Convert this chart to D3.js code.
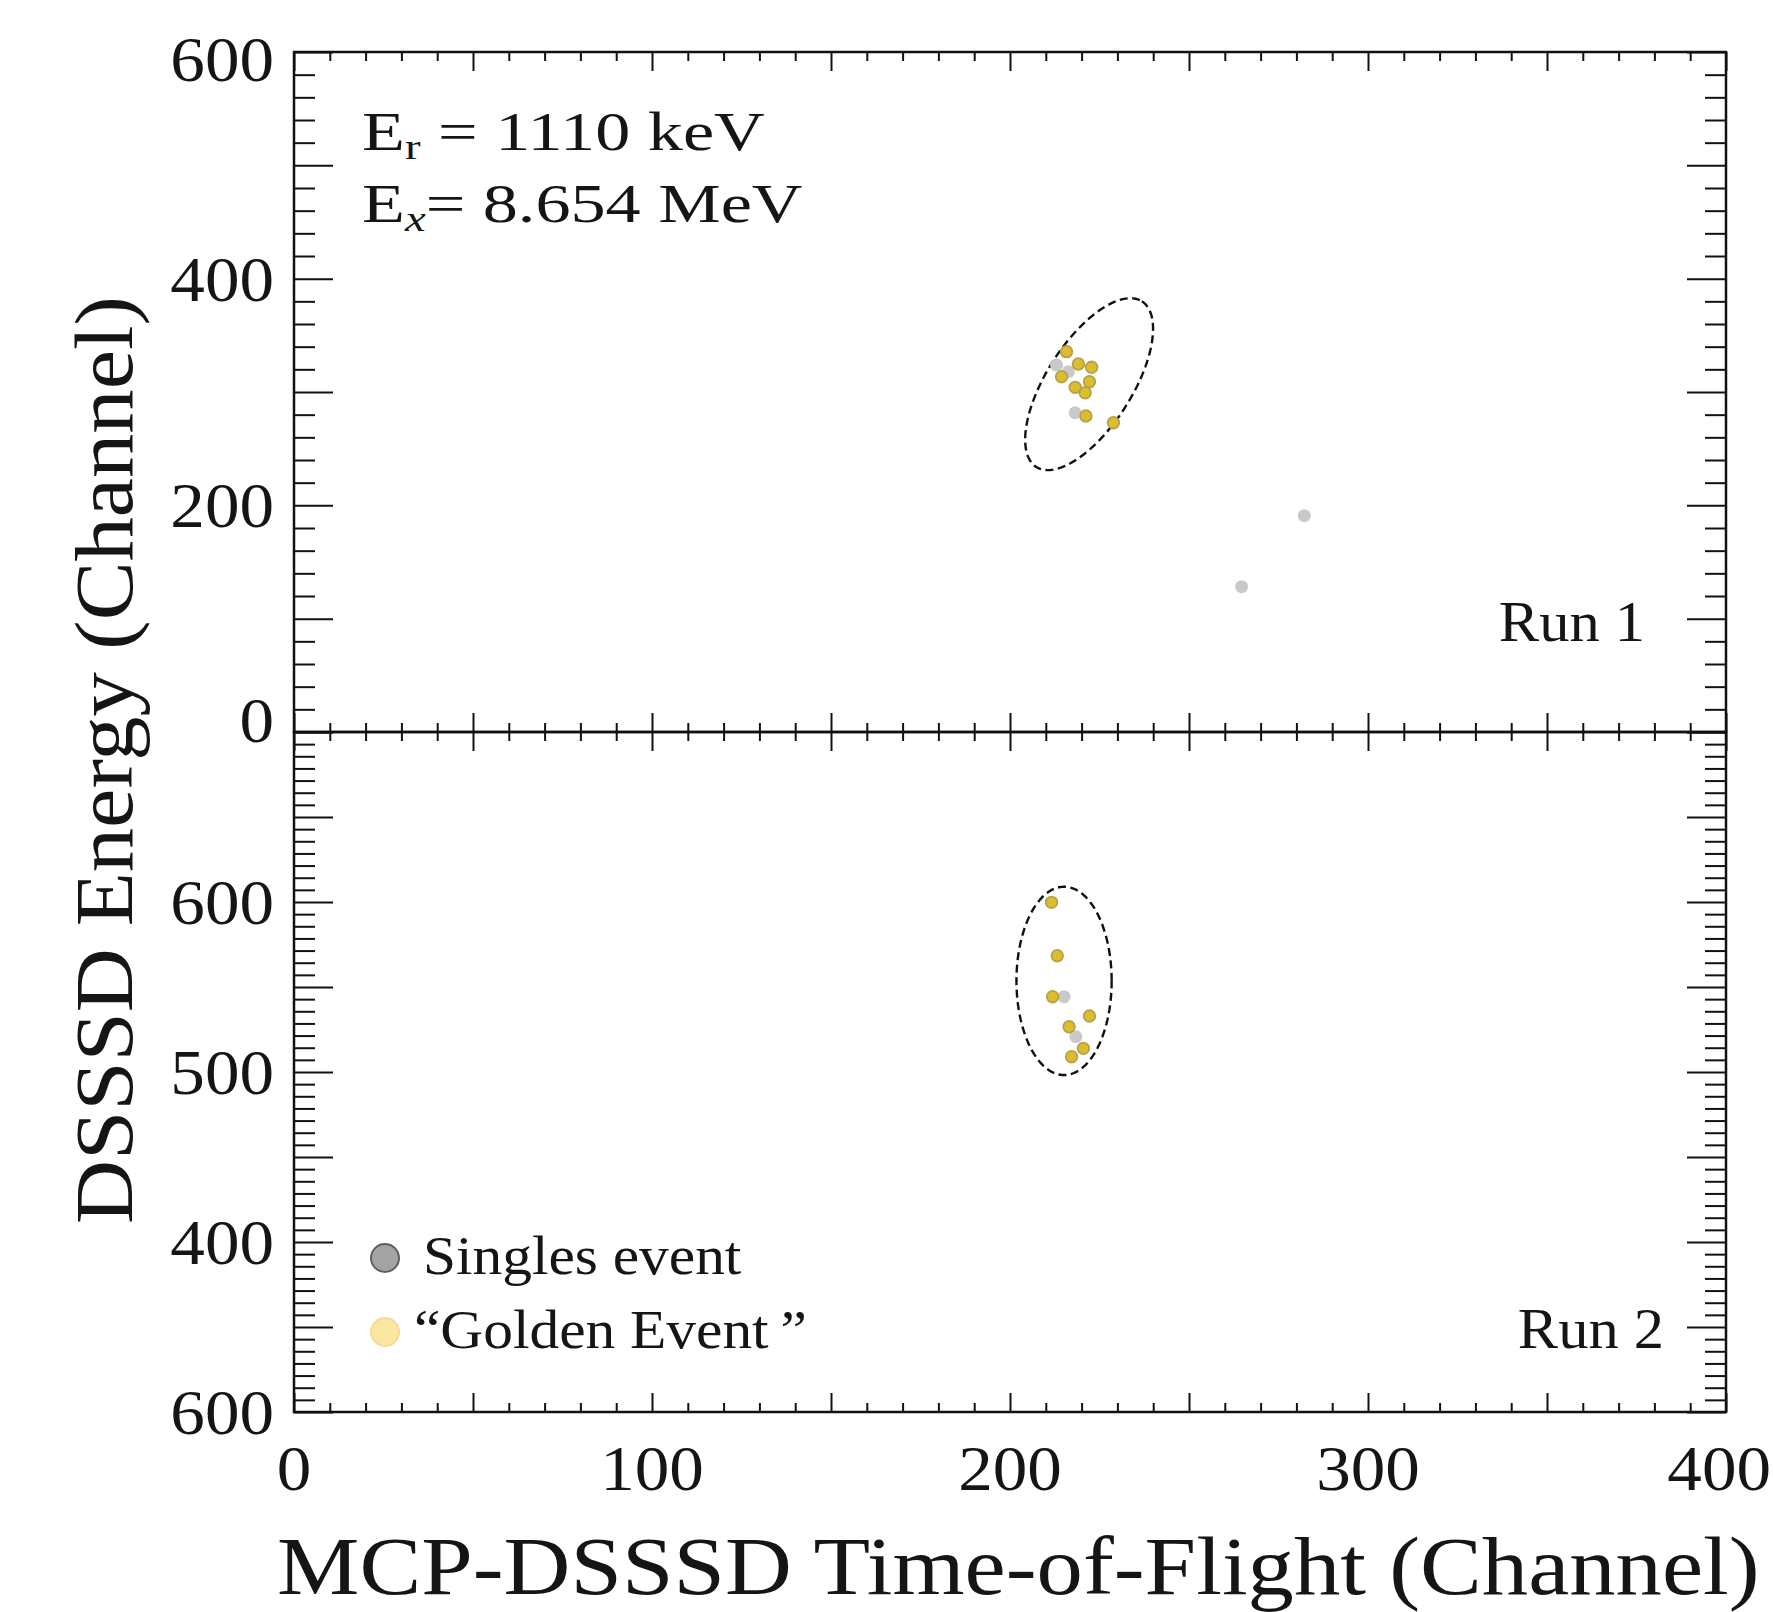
<!DOCTYPE html>
<html>
<head>
<meta charset="utf-8">
<script src="https://cdn.jsdelivr.net/npm/d3@7"></script>
<style>
  body { margin: 0; background: #fff; }
  text { font-family: "Liberation Serif", serif; fill: #151515; }
</style>
</head>
<body>
<div id="chart"></div>
<script>
// Two stacked panels sharing the ToF axis (Run 1 on top, Run 2 below)

const width = 1773;
const height = 1612;
const margin = {left: 294, right: 47, top: 52};
const panelH = 680;
const sx = 1.08; // text is a bit wider than Liberation Serif

// x axis
const xDomain = [0, 400];
const xTickVals = [0, 100, 200, 300, 400];

// Run 1 (top panel)
const run1Domain = [0, 600];
const run1TickVals = [0, 200, 400, 600];
const run1TickLabels = ["0", "200", "400", "600"];
const run1Singles = [[213.0, 323.8], [216.3, 317.9], [218.2, 281.7], [282.2, 190.9], [264.7, 128.2]];
const run1Golden = [[215.8, 335.6], [219.1, 324.7], [222.8, 321.8], [214.4, 313.5], [222.2, 309.1],
                    [218.2, 304.1], [221.0, 299.4], [221.2, 278.8], [228.9, 272.9]];
// gate: centre + two conjugate half-axes, all in data units
const run1Gate = {cx: 222.1, cy: 306.9, ux: 14.75, uy: 73.1, vx: 10.08, vy: -20.3};

// Run 2 (bottom panel) - tick labels as printed on the original
const run2Domain = [300, 700];
const run2TickVals = [300, 400, 500, 600];
const run2TickLabels = ["600", "400", "500", "600"];
const run2Singles = [[215.1, 544.3], [218.4, 520.8]];
const run2Golden = [[211.6, 599.8], [213.2, 568.4], [211.9, 544.3], [222.2, 532.9],
                    [216.5, 526.6], [220.5, 513.9], [217.2, 509.0]];
const run2Gate = {cx: 215.1, cy: 553.6, ux: 13.3, uy: 0, vx: 0, vy: 55.4};

const svg = d3.select("#chart")
  .append("svg")
  .attr("width", width)
  .attr("height", height);

const x = d3.scaleLinear()
  .domain(xDomain)
  .range([margin.left, width - margin.right]);

// put a text with a small horizontal stretch
function putText(g, px, py, txt, size, anchor, rot, stretch) {
  return g.append("text")
    .attr("transform", `translate(${px},${py})` + (rot ? ` rotate(${rot})` : "") + ` scale(${stretch || sx},1)`)
    .attr("font-size", size)
    .attr("text-anchor", anchor || "start")
    .text(txt);
}

function drawPanel(top, domain, tickVals, tickLabels, majorStep, minorStep, singles, golden, gate, runName, runX, runY, labelShift) {
  const y = d3.scaleLinear()
    .domain(domain)
    .range([top + panelH, top]);

  const g = svg.append("g");

  // minor / major ticks
  const xMinor = d3.range(xDomain[0], xDomain[1] + 0.01, 10);
  const isMajorX = v => Math.abs(v / 50 - Math.round(v / 50)) < 1e-6;
  const yMinor = d3.range(domain[0], domain[1] + 0.01, minorStep);
  const isMajorY = v => Math.abs((v - domain[0]) / majorStep - Math.round((v - domain[0]) / majorStep)) < 1e-6;

  const tickStyle = sel => sel.selectAll("line").attr("stroke", "#111").attr("stroke-width", 2);

  [[d3.axisBottom, top], [d3.axisTop, top + panelH]].forEach(([ax, ypos]) => {
    [[xMinor.filter(v => !isMajorX(v)), 9], [xMinor.filter(isMajorX), 19]].forEach(([vals, len]) => {
      g.append("g")
        .attr("transform", `translate(0,${ypos})`)
        .call(ax(x).tickValues(vals).tickSize(len).tickFormat(""))
        .call(a => a.select(".domain").remove())
        .call(tickStyle);
    });
  });

  [[d3.axisLeft, margin.left], [d3.axisRight, width - margin.right]].forEach(([ax, xpos]) => {
    [[yMinor.filter(v => !isMajorY(v)), 21], [yMinor.filter(isMajorY), 39]].forEach(([vals, len]) => {
      g.append("g")
        .attr("transform", `translate(${xpos},0)`)
        .call(ax(y).tickValues(vals).tickSize(-len).tickFormat(""))
        .call(a => a.select(".domain").remove())
        .call(tickStyle);
    });
  });

  // frame
  g.append("rect")
    .attr("x", margin.left)
    .attr("y", top)
    .attr("width", width - margin.right - margin.left)
    .attr("height", panelH)
    .attr("fill", "none")
    .attr("stroke", "#111")
    .attr("stroke-width", 2.5);

  // y tick labels
  tickVals.forEach((v, i) => {
    putText(g, margin.left - 20, y(v) + 22 + (labelShift[i] || 0), tickLabels[i], 64, "end");
  });

  // gate
  const ts = d3.range(0, 361, 3).map(a => a * Math.PI / 180);
  g.append("path")
    .datum(ts)
    .attr("d", d3.line()
      .x(t => x(gate.cx + gate.ux * Math.cos(t) + gate.vx * Math.sin(t)))
      .y(t => y(gate.cy + gate.uy * Math.cos(t) + gate.vy * Math.sin(t))))
    .attr("fill", "none")
    .attr("stroke", "#111")
    .attr("stroke-width", 2.4)
    .attr("stroke-dasharray", "8,4.5");

  // singles events
  g.selectAll(".single")
    .data(singles)
    .enter()
    .append("circle")
      .attr("class", "single")
      .attr("cx", d => x(d[0]))
      .attr("cy", d => y(d[1]))
      .attr("r", 6.5)
      .attr("fill", "#c9c9c9");

  // golden events
  g.selectAll(".golden")
    .data(golden)
    .enter()
    .append("circle")
      .attr("class", "golden")
      .attr("cx", d => x(d[0]))
      .attr("cy", d => y(d[1]))
      .attr("r", 5.8)
      .attr("fill", "#dcbd2e")
      .attr("stroke", "#b8a04a")
      .attr("stroke-width", 1.8);

  putText(g, runX, runY, runName, 56, "end");
  return y;
}

const topY = margin.top;
const botY = margin.top + panelH;

drawPanel(topY, run1Domain, run1TickVals, run1TickLabels, 100, 20,
  run1Singles, run1Golden, run1Gate, "Run 1", 1645, 641, [-12, 0, 0, 7]);
drawPanel(botY, run2Domain, run2TickVals, run2TickLabels, 50, 100 / 14,
  run2Singles, run2Golden, run2Gate, "Run 2", 1664, 1348, [0, 0, 0, 0]);

// x tick labels (last one pulled in so it stays on the page)
xTickVals.forEach((v, i) => {
  const last = i === xTickVals.length - 1;
  putText(svg, last ? width - 2 : x(v), botY + panelH + 78, String(v), 64, last ? "end" : "middle");
});

// axis titles
putText(svg, 277, 1594, "MCP-DSSSD Time-of-Flight (Channel)", 82, "start", 0, 1.13);
putText(svg, 132, 760, "DSSSD Energy (Channel)", 82, "middle", -90, 1.08);

// energy annotation
const annStretch = 1.3;
const ann1 = svg.append("text")
  .attr("transform", `translate(362,150) scale(${annStretch},1)`)
  .attr("font-size", 54);
ann1.append("tspan").text("E");
ann1.append("tspan").attr("font-size", 36).attr("dy", 9).text("r");
ann1.append("tspan").attr("dy", -9).text(" = 1110 keV");

const ann2 = svg.append("text")
  .attr("transform", `translate(362,222) scale(${annStretch},1)`)
  .attr("font-size", 54);
ann2.append("tspan").text("E");
ann2.append("tspan").attr("font-size", 36).attr("dy", 9).attr("font-style", "italic").text("x");
ann2.append("tspan").attr("dy", -9).text("= 8.654 MeV");

// legend
const legendItems = ["Singles event", "\u201CGolden Event\u2009\u201D"];
const legendFill = ["#a3a3a3", "#fbe7a2"];
const legendStroke = ["#5f5f5f", "#f3dc95"];
legendItems.forEach((name, i) => {
  const ly = 1258 + i * 74;
  svg.append("circle")
    .attr("cx", 385)
    .attr("cy", ly)
    .attr("r", 14)
    .attr("fill", legendFill[i])
    .attr("stroke", legendStroke[i])
    .attr("stroke-width", 2);
  putText(svg, i === 0 ? 423 : 414, ly + 16, name, 55, "start");
});
</script>
</body>
</html>
